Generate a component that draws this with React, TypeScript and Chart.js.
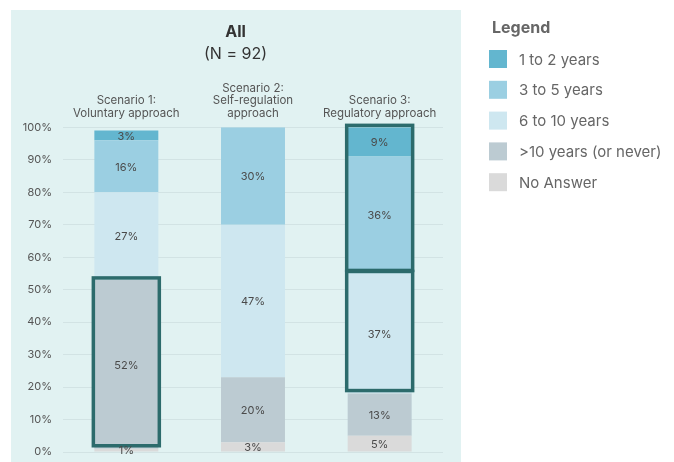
import { useEffect, useRef } from 'react';
import { Chart, registerables } from 'chart.js';

Chart.register(...registerables);

// Scenario labels shown above each column
const categories = [
  ['Scenario 1:', 'Voluntary approach'],
  ['Scenario 2:', 'Self-regulation', 'approach'],
  ['Scenario 3:', 'Regulatory approach'],
];

// Stacked series, bottom to top (percent of respondents)
const seriesNames = ['No Answer', '>10 years (or never)', '6 to 10 years', '3 to 5 years', '1 to 2 years'];
const noAnswer = [1, 3, 5];
const overTenYears = [52, 20, 13];
const sixToTenYears = [27, 47, 37];
const threeToFiveYears = [16, 30, 36];
const oneToTwoYears = [3, 0, 9];
const seriesColors = ['#dadada', '#bccbd2', '#cee7f0', '#9bcfe2', '#63b6cf'];

// Outlined groups: column index and the first/last stacked series in the box
const highlightCategory = [0, 2, 2];
const highlightFrom = [1, 3, 2];
const highlightTo = [1, 4, 2];

const FONT = 'Inter, "Noto Sans", sans-serif';

const panelBackground = {
  id: 'panelBackground',
  beforeDraw(chart: any) {
    const { ctx } = chart;
    ctx.save();
    ctx.fillStyle = '#e1f2f2';
    ctx.fillRect(11, 10, 450, 452);
    ctx.restore();
  },
};

const highlightBoxes = {
  id: 'highlightBoxes',
  afterDatasetsDraw(chart: any) {
    const { ctx } = chart;
    ctx.save();
    ctx.strokeStyle = '#2c6b6c';
    ctx.lineWidth = 3.5;
    highlightCategory.forEach((cat, i) => {
      const topBar = chart.getDatasetMeta(highlightTo[i]).data[cat];
      const bottomBar = chart.getDatasetMeta(highlightFrom[i]).data[cat];
      const half = topBar.width / 2 + 1;
      const top = topBar.y - 2;
      const bottom = bottomBar.base - 3;
      ctx.strokeRect(topBar.x - half, top, half * 2, bottom - top);
    });
    ctx.restore();
  },
};

const segmentLabels = {
  id: 'segmentLabels',
  afterDatasetsDraw(chart: any) {
    const { ctx } = chart;
    ctx.save();
    ctx.font = `11px ${FONT}`;
    ctx.fillStyle = '#4a4a4a';
    ctx.textAlign = 'center';
    ctx.textBaseline = 'middle';
    chart.data.datasets.forEach((ds: any, di: number) => {
      const meta = chart.getDatasetMeta(di);
      meta.data.forEach((bar: any, j: number) => {
        const v = ds.data[j];
        if (!v) return;
        ctx.fillText(`${v}%`, bar.x, (bar.y + bar.base) / 2 + 1);
      });
    });
    ctx.restore();
  },
};

const sideLegend = {
  id: 'sideLegend',
  afterDraw(chart: any) {
    const { ctx } = chart;
    ctx.save();
    ctx.textBaseline = 'middle';
    ctx.textAlign = 'left';
    ctx.fillStyle = '#666666';
    ctx.font = `bold 16px ${FONT}`;
    ctx.fillText('Legend', 492, 28);
    ctx.font = `15px ${FONT}`;
    const items = [...chart.data.datasets].reverse();
    items.forEach((ds: any, i: number) => {
      const cy = 59 + i * 30.8;
      ctx.fillStyle = ds.backgroundColor;
      ctx.fillRect(489, cy - 9, 18, 18);
      ctx.fillStyle = '#666666';
      ctx.fillText(ds.label, 519, cy + 1);
    });
    ctx.restore();
  },
};

export default function App() {
  const canvasRef = useRef<HTMLCanvasElement | null>(null);

  useEffect(() => {
    document.body.style.margin = '0';
    const series = [noAnswer, overTenYears, sixToTenYears, threeToFiveYears, oneToTwoYears];
    const chart = new Chart(canvasRef.current as HTMLCanvasElement, {
      type: 'bar',
      data: {
        labels: categories as any,
        datasets: series.map((values, i) => ({
          label: seriesNames[i],
          data: values,
          backgroundColor: seriesColors[i],
          borderWidth: 0,
          barPercentage: 0.505,
          categoryPercentage: 1,
        })),
      },
      options: {
        animation: false,
        responsive: true,
        maintainAspectRatio: false,
        layout: { padding: { left: 10, right: 213, top: 10, bottom: 10 } },
        plugins: {
          legend: { display: false },
          tooltip: { enabled: false },
          title: {
            display: true,
            text: 'All',
            color: '#333333',
            font: { family: FONT, size: 16, weight: 'bold', lineHeight: 1.2 },
            padding: { top: 13, bottom: 2 },
          },
          subtitle: {
            display: true,
            text: '(N = 92)',
            color: '#333333',
            font: { family: FONT, size: 16, weight: 'normal', lineHeight: 1.2 },
            padding: { top: 0, bottom: 11 },
          },
        },
        scales: {
          x: {
            position: 'top',
            stacked: true,
            grid: { display: false, drawTicks: false },
            border: { display: false },
            ticks: {
              color: '#555555',
              font: { family: FONT, size: 11.5, lineHeight: 1.1 },
              padding: 7.5,
              maxRotation: 0,
              autoSkip: false,
            },
          },
          y: {
            stacked: true,
            min: 0,
            max: 100,
            border: { display: false },
            grid: { color: '#d2e3e4', drawTicks: false },
            ticks: {
              stepSize: 10,
              color: '#555555',
              font: { family: FONT, size: 11 },
              padding: 11,
              callback: (v: any) => `${v}%`,
            },
            afterFit: (s: any) => {
              s.width = 53;
              s.paddingTop = 0;
              s.paddingBottom = 0;
            },
          },
          spacer: {
            type: 'linear',
            position: 'right',
            grid: { display: false },
            border: { display: false },
            ticks: { display: false },
            afterFit: (s: any) => { s.width = 18; },
          },
        },
      } as any,
      plugins: [panelBackground, highlightBoxes, segmentLabels, sideLegend],
    });
    return () => chart.destroy();
  }, []);

  return (
    <div style={{ width: 674, height: 462, position: 'relative' }}>
      <canvas ref={canvasRef} />
    </div>
  );
}
